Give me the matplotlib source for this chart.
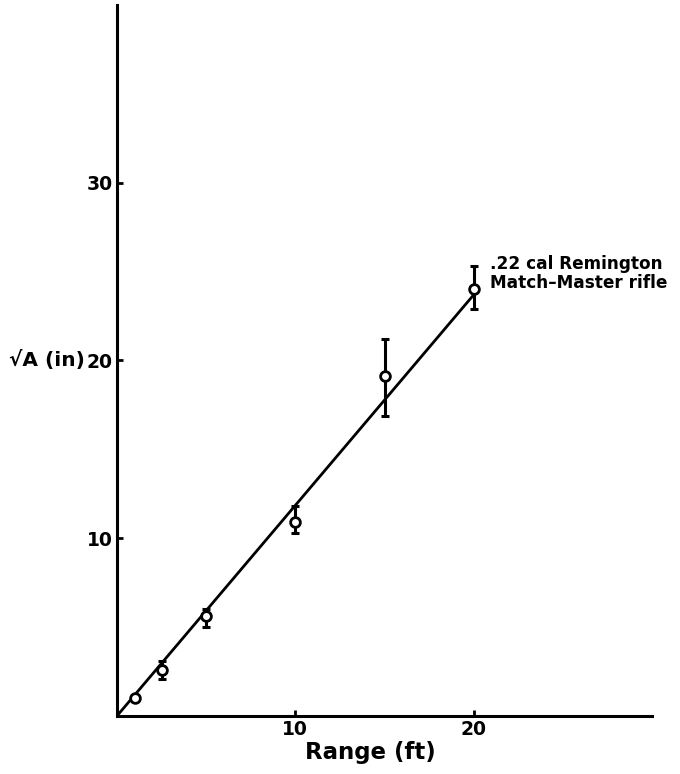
import matplotlib
matplotlib.use("Agg")
import matplotlib.pyplot as plt

plt.rcParams['font.family'] = ['DejaVu Sans']

# Data
range_ft = [1, 2.5, 5, 10, 15, 20]
sqrt_a = [1.0, 2.6, 5.6, 10.9, 19.1, 24.0]
err_low = [0.0, 0.5, 0.6, 0.6, 2.2, 1.1]
err_high = [0.0, 0.5, 0.4, 0.9, 2.1, 1.3]
fit_x = [0, 20]
fit_y = [0, 23.7]
x_ticks = [10, 20]
y_ticks = [10, 20, 30]
label_text = ".22 cal Remington\nMatch–Master rifle"

fig = plt.figure(figsize=(6.8, 7.74), dpi=100)
ax = fig.add_axes([0.172, 0.075, 0.787, 0.9185])

ax.plot(fit_x, fit_y, color='black', lw=2.0, zorder=2)
ax.errorbar(range_ft, sqrt_a, yerr=[err_low, err_high], fmt='none',
            ecolor='black', elinewidth=2.2, capsize=3, capthick=2.2, zorder=3)
ax.plot(range_ft, sqrt_a, 'o', ms=7, mfc='white', mec='black', mew=2.0, zorder=4)

ax.set_xlim(0, 30)
ax.set_ylim(0, 40)
for s in ['top', 'right']:
    ax.spines[s].set_visible(False)
for s in ['left', 'bottom']:
    ax.spines[s].set_linewidth(2.2)

ax.set_xticks(x_ticks)
ax.set_yticks(y_ticks)
ax.tick_params(direction='in', length=4, width=2)
ax.tick_params(axis='x', labelsize=13.5, pad=3)
ax.tick_params(axis='y', labelsize=13.5, pad=3)
for lab in ax.get_xticklabels() + ax.get_yticklabels():
    lab.set_fontweight('bold')

ax.set_xlabel('Range (ft)', fontsize=16.5, fontweight='bold', labelpad=4)
ax.xaxis.set_label_coords(0.473, -0.035)
ax.set_ylabel('√A (in)', fontsize=14.5, fontweight='bold', rotation=0,
              ha='right', va='center')
ax.yaxis.set_label_coords(-0.060, 0.5)

ax.text(20.9, 24.9, label_text, fontsize=12.2, fontweight='bold',
        ha='left', va='center', linespacing=1.05)

fig.savefig('out.png', dpi=100)
